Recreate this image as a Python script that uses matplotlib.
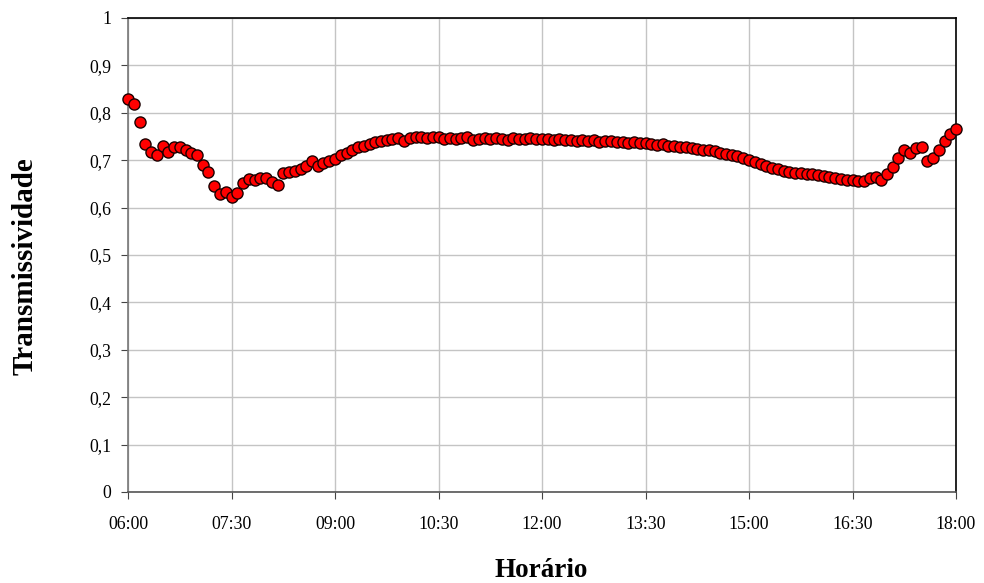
import numpy as np
import matplotlib
matplotlib.use("Agg")
import matplotlib.pyplot as plt

# horas decimais (passo de 5 min) e transmissividade
inicio_h = 6.0
passo_h = 5 / 60
transmissividade = [
    0.830, 0.818, 0.780, 0.735, 0.718, 0.710, 0.730, 0.718, 0.728, 0.728,
    0.722, 0.716, 0.710, 0.690, 0.675, 0.645, 0.628, 0.632, 0.622, 0.630,
    0.652, 0.660, 0.658, 0.662, 0.662, 0.655, 0.648, 0.672, 0.676, 0.678,
    0.682, 0.688, 0.698, 0.688, 0.694, 0.698, 0.703, 0.710, 0.716, 0.722,
    0.727, 0.730, 0.735, 0.738, 0.740, 0.742, 0.745, 0.746, 0.740, 0.747,
    0.748, 0.748, 0.747, 0.748, 0.748, 0.745, 0.747, 0.744, 0.746, 0.748,
    0.743, 0.745, 0.746, 0.744, 0.747, 0.745, 0.743, 0.746, 0.745, 0.744,
    0.746, 0.744, 0.745, 0.744, 0.743, 0.745, 0.742, 0.743, 0.741, 0.743,
    0.740, 0.742, 0.739, 0.740, 0.741, 0.738, 0.739, 0.737, 0.738, 0.736,
    0.737, 0.735, 0.733, 0.734, 0.731, 0.730, 0.728, 0.727, 0.726, 0.724,
    0.722, 0.721, 0.719, 0.716, 0.714, 0.712, 0.709, 0.705, 0.700, 0.696,
    0.692, 0.688, 0.684, 0.681, 0.678, 0.676, 0.674, 0.672, 0.671, 0.670,
    0.668, 0.666, 0.664, 0.662, 0.660, 0.659, 0.658, 0.656, 0.656, 0.662,
    0.664, 0.658, 0.670, 0.685, 0.705, 0.722, 0.715, 0.725, 0.728, 0.698,
    0.705, 0.722, 0.740, 0.755, 0.765,
]
x_ticks = [6.0, 7.5, 9.0, 10.5, 12.0, 13.5, 15.0, 16.5, 18.0]
x_labels = ["06:00", "07:30", "09:00", "10:30", "12:00", "13:30", "15:00", "16:30", "18:00"]
y_ticks = [0, 0.1, 0.2, 0.3, 0.4, 0.5, 0.6, 0.7, 0.8, 0.9, 1.0]
y_labels = ["0", "0,1", "0,2", "0,3", "0,4", "0,5", "0,6", "0,7", "0,8", "0,9", "1"]

horas = inicio_h + passo_h * np.arange(len(transmissividade))

plt.rcParams['font.family'] = ['Liberation Serif', 'DejaVu Serif']

W, H = 984, 583
fig = plt.figure(figsize=(W / 100, H / 100), dpi=100)
ax = fig.add_axes([128 / W, 1 - 492 / H, 828 / W, 474 / H])

ax.plot(horas, transmissividade, linestyle='none', marker='o', markersize=8,
        markerfacecolor='#ff0000', markeredgecolor='#1a0000', markeredgewidth=1.0,
        zorder=3, clip_on=False)

ax.set_xlim(6, 18)
ax.set_ylim(0, 1)
ax.set_xticks(x_ticks)
ax.set_xticklabels(x_labels, fontsize=12.75)
ax.set_yticks(y_ticks)
ax.set_yticklabels(y_labels, fontsize=12.75)
ax.grid(True, color='#c4c4c4', linewidth=1.0)
ax.set_axisbelow(True)

ax.tick_params(axis='x', direction='out', length=5, color='#444444', pad=12)
ax.tick_params(axis='y', direction='out', length=5, color='#444444', pad=7)

ax.spines['left'].set_color('#777777')
ax.spines['bottom'].set_color('#555555')
ax.spines['top'].set_color('black')
ax.spines['right'].set_color('black')
for s in ax.spines.values():
    s.set_linewidth(1.2)

# rótulos dos eixos
fig.text(541 / W, 6 / H, "Horário", fontsize=19.5, fontweight='bold',
         ha='center', va='baseline')
fig.text(33 / W, 1 - 266 / H, "Transmissividade", fontsize=21, fontweight='bold',
         rotation=90, ha='center', va='baseline', rotation_mode='anchor')

fig.savefig("out.png", dpi=100)
